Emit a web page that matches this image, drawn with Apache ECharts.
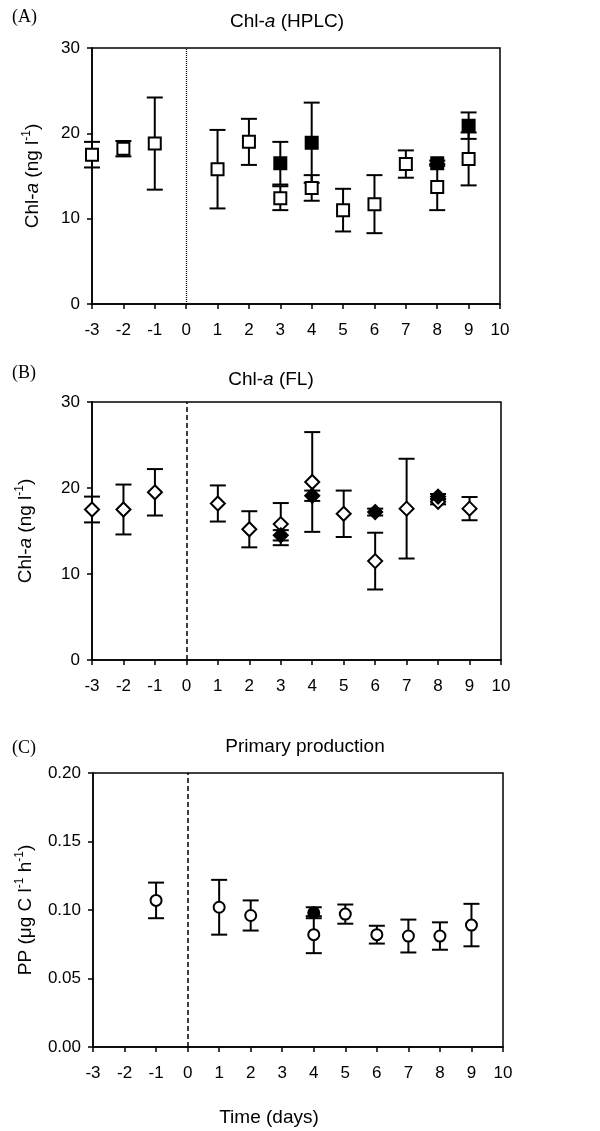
<!DOCTYPE html>
<html>
<head>
<meta charset="utf-8">
<script src="https://cdn.jsdelivr.net/npm/echarts@6/dist/echarts.min.js"></script>
<style>
  html, body { margin: 0; padding: 0; background: #fff; }
  #chart { width: 600px; height: 1131px; }
</style>
</head>
<body>
<div id="chart"></div>
<script>
// (A) Chl-a by HPLC, ng/l
const hplcCtrlDays = [-3, -2, -1, 1, 2, 3, 4, 5, 6, 7, 8, 9]
const hplcCtrl = [17.5, 18.2, 18.8, 15.8, 19.0, 12.4, 13.6, 11.0, 11.7, 16.4, 13.7, 17.0]
const hplcCtrlErr = [1.5, 0.9, 5.4, 4.6, 2.7, 1.4, 1.5, 2.5, 3.4, 1.6, 2.7, 3.1]
const hplcTreatDays = [3, 4, 8, 9]
const hplcTreat = [16.5, 18.9, 16.5, 20.9]
const hplcTreatErr = [2.5, 4.7, 0.3, 1.55]

// (B) Chl-a by fluorescence, ng/l
const flCtrlDays = [-3, -2, -1, 1, 2, 3, 4, 5, 6, 7, 8, 9]
const flCtrl = [17.5, 17.5, 19.5, 18.2, 15.2, 15.8, 20.7, 17.0, 11.5, 17.6, 18.4, 17.6]
const flCtrlErr = [1.5, 2.9, 2.7, 2.1, 2.1, 2.45, 5.8, 2.7, 3.3, 5.8, 0.3, 1.35]
const flTreatDays = [3, 4, 6, 8]
const flTreat = [14.5, 19.1, 17.2, 19.0]
const flTreatErr = [0.6, 0.6, 0.4, 0.3]

// (C) primary production, ug C/l/h
const ppCtrlDays = [-1, 1, 2, 4, 5, 6, 7, 8, 9]
const ppCtrl = [0.107, 0.102, 0.096, 0.082, 0.097, 0.082, 0.081, 0.081, 0.089]
const ppCtrlErr = [0.013, 0.020, 0.011, 0.0135, 0.007, 0.0065, 0.012, 0.010, 0.0155]
const ppTreatDays = [4]
const ppTreat = [0.098]
const ppTreatErr = [0.004]

const xTicks = [-3, 10, 1]
const chlTicks = [0, 30, 10]
const ppTicks = [0, 0.2, 0.05]

const FONT = 'Liberation Sans, Arial, sans-serif'
const supRich = {
  n: { fontSize: 19, fontFamily: FONT, color: '#000', lineHeight: 23 },
  i: { fontSize: 19, fontFamily: FONT, color: '#000', fontStyle: 'italic', lineHeight: 23 },
  s: { fontSize: 12, fontFamily: FONT, color: '#000', verticalAlign: 'top', lineHeight: 23 }
}

function points(days, vals) {
  return days.map((d, i) => [d, vals[i]])
}
function bars(days, vals, errs) {
  return days.map((d, i) => [d, vals[i] - errs[i], vals[i] + errs[i]])
}

function errorSeries(idx, data) {
  return {
    type: 'custom',
    xAxisIndex: idx,
    yAxisIndex: idx,
    z: 2,
    silent: true,
    data: data,
    renderItem(params, api) {
      const lo = api.coord([api.value(0), api.value(1)])
      const hi = api.coord([api.value(0), api.value(2)])
      const w = 8
      const st = { stroke: '#000', lineWidth: 2 }
      return {
        type: 'group',
        children: [
          { type: 'line', shape: { x1: lo[0], y1: lo[1], x2: hi[0], y2: hi[1] }, style: st },
          { type: 'line', shape: { x1: lo[0] - w, y1: lo[1], x2: lo[0] + w, y2: lo[1] }, style: st },
          { type: 'line', shape: { x1: hi[0] - w, y1: hi[1], x2: hi[0] + w, y2: hi[1] }, style: st }
        ]
      }
    }
  }
}

function markerSeries(idx, data, symbol, size, filled, z) {
  return {
    type: 'scatter',
    xAxisIndex: idx,
    yAxisIndex: idx,
    z: z,
    silent: true,
    symbol: symbol,
    symbolSize: size,
    data: data,
    itemStyle: {
      color: filled ? '#000' : '#fff',
      borderColor: '#000',
      borderWidth: 2,
      opacity: 1
    }
  }
}

function zeroLine(idx, type, width) {
  return {
    type: 'scatter',
    xAxisIndex: idx,
    yAxisIndex: idx,
    data: [],
    silent: true,
    markLine: {
      symbol: 'none',
      silent: true,
      animation: false,
      label: { show: false },
      lineStyle: { color: '#000', type: type, width: width },
      data: [{ xAxis: 0 }]
    }
  }
}

const grids = [
  { left: 92, top: 48, width: 408, height: 256 },
  { left: 92, top: 402, width: 409, height: 258 },
  { left: 93, top: 773, width: 410, height: 274 }
]

const xAxes = grids.map((g, i) => ({
  type: 'value',
  gridIndex: i,
  min: xTicks[0],
  max: xTicks[1],
  interval: xTicks[2],
  axisLine: { onZero: false, lineStyle: { color: '#000', width: 1.5 } },
  axisTick: { show: true, inside: false, length: 5, lineStyle: { color: '#000', width: 1.5 } },
  axisLabel: { color: '#000', fontSize: 17, fontFamily: FONT, margin: 18 },
  splitLine: { show: false }
}))

function yAxis(i, ticks, name, gap, digits) {
  return {
    type: 'value',
    gridIndex: i,
    min: ticks[0],
    max: ticks[1],
    interval: ticks[2],
    name: name,
    nameLocation: 'middle',
    nameRotate: 90,
    nameGap: gap,
    nameTextStyle: { rich: supRich },
    axisLine: { show: true, onZero: false, lineStyle: { color: '#000', width: 1.5 } },
    axisTick: { show: true, inside: false, length: 5, lineStyle: { color: '#000', width: 1.5 } },
    axisLabel: {
      color: '#000', fontSize: 17, fontFamily: FONT, margin: 12,
      formatter: v => v.toFixed(digits)
    },
    splitLine: { show: false }
  }
}

const chlName = '{n|Chl-}{i|a}{n| (ng l}{s|-1}{n|)}'
const ppName = '{n|PP (μg C l}{s|-1}{n| h}{s|-1}{n|)}'

function panelText(x, y, label) {
  return {
    type: 'text', x: x, y: y,
    style: { text: label, font: '18px "Liberation Serif", "Times New Roman", serif', fill: '#000', textVerticalAlign: 'middle' }
  }
}
function titleText(x, y, text) {
  return {
    type: 'text', x: x, y: y,
    style: { text: text, rich: supRich, align: 'center', verticalAlign: 'middle', fill: '#000' }
  }
}

const chart = echarts.init(document.getElementById('chart'))
chart.setOption({
  animation: false,
  backgroundColor: '#fff',
  grid: grids.map(g => Object.assign({ show: true, borderColor: '#000', borderWidth: 1.5, backgroundColor: 'transparent' }, g)),
  xAxis: xAxes,
  yAxis: [
    yAxis(0, chlTicks, chlName, 48, 0),
    yAxis(1, chlTicks, chlName, 55, 0),
    yAxis(2, ppTicks, ppName, 56, 2)
  ],
  graphic: [
    panelText(12, 17, '(A)'),
    panelText(12, 373, '(B)'),
    panelText(12, 748, '(C)'),
    titleText(287, 22, '{n|Chl-}{i|a}{n| (HPLC)}'),
    titleText(271, 380, '{n|Chl-}{i|a}{n| (FL)}'),
    titleText(305, 747, '{n|Primary production}'),
    titleText(269, 1118, '{n|Time (days)}')
  ],
  series: [
    zeroLine(0, [1, 1], 1.3),
    errorSeries(0, bars(hplcCtrlDays, hplcCtrl, hplcCtrlErr)),
    errorSeries(0, bars(hplcTreatDays, hplcTreat, hplcTreatErr)),
    markerSeries(0, points(hplcCtrlDays, hplcCtrl), 'rect', 12, false, 3),
    markerSeries(0, points(hplcTreatDays, hplcTreat), 'rect', 12, true, 4),

    zeroLine(1, [5, 3], 1.5),
    errorSeries(1, bars(flCtrlDays, flCtrl, flCtrlErr)),
    errorSeries(1, bars(flTreatDays, flTreat, flTreatErr)),
    markerSeries(1, points(flCtrlDays, flCtrl), 'diamond', [14, 14], false, 3),
    markerSeries(1, points(flTreatDays, flTreat), 'diamond', [14, 14], true, 4),

    zeroLine(2, [5, 3], 1.5),
    errorSeries(2, bars(ppCtrlDays, ppCtrl, ppCtrlErr)),
    errorSeries(2, bars(ppTreatDays, ppTreat, ppTreatErr)),
    markerSeries(2, points(ppCtrlDays, ppCtrl), 'circle', 11, false, 3),
    markerSeries(2, points(ppTreatDays, ppTreat), 'circle', 11, true, 4)
  ]
})
</script>
</body>
</html>
